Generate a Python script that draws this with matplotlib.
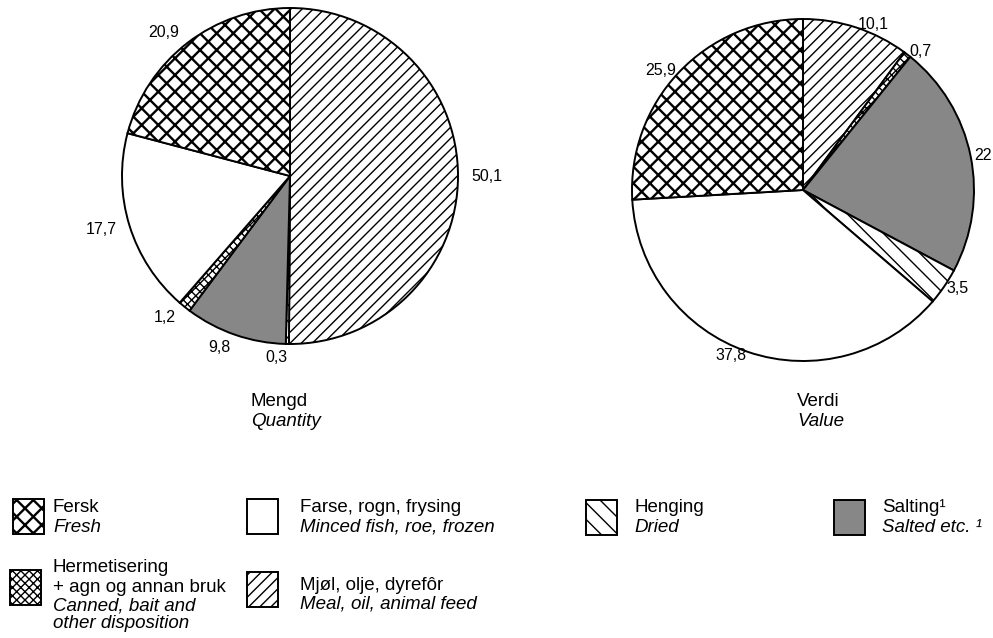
import matplotlib
matplotlib.use("Agg")
import matplotlib.pyplot as plt
from matplotlib.patches import Rectangle

plt.rcParams["font.family"] = ["Liberation Sans", "DejaVu Sans"]
plt.rcParams["hatch.linewidth"] = 1.0

# ----------------------------------------------------------------------
# Data (shares in per cent)
# ----------------------------------------------------------------------
# Wedges listed clockwise from 12 o'clock.
quantity_cats = ["mjol", "henging", "salting", "hermet", "farse", "fersk"]
quantity_vals = [50.1, 0.3, 9.8, 1.2, 17.7, 20.9]

value_cats = ["mjol", "hermet", "salting", "henging", "farse", "fersk"]
value_vals = [10.1, 0.7, 22.0, 3.5, 37.8, 25.9]

legend_cats = ["fersk", "farse", "henging", "salting", "hermet", "mjol"]
legend_no = ["Fersk", "Farse, rogn, frysing", "Henging", "Salting\u00b9",
             "Hermetisering\n+ agn og annan bruk", "Mjøl, olje, dyrefôr"]
legend_en = ["Fresh", "Minced fish, roe, frozen", "Dried", "Salted etc. \u00b9",
             "Canned, bait and\nother disposition", "Meal, oil, animal feed"]

# fill styles per category: (facecolor, hatch)
STYLE = {
    "fersk": ("white", "xx"),
    "hermet": ("white", "xxxx"),
    "farse": ("white", ""),
    "mjol": ("white", "///"),
    "henging": ("white", "\\\\"),
    "salting": ("#878787", ""),
}

W, H = 993, 638


def fmt(v):
    return f"{v:g}".replace(".", ",")


def draw_pie(ax, vals, cats, center, radius, labeldistance):
    wedges, texts = ax.pie(
        vals,
        labels=[fmt(v) for v in vals],
        colors=[STYLE[c][0] for c in cats],
        hatch=[STYLE[c][1] for c in cats],
        startangle=90,
        counterclock=False,
        center=center,
        radius=radius,
        labeldistance=labeldistance,
        wedgeprops={"edgecolor": "black", "linewidth": 1.4},
        textprops={"fontsize": 11.5},
    )
    for w, c in zip(wedges, cats):
        if c == "fersk" and hasattr(w, "set_hatch_linewidth"):
            w.set_hatch_linewidth(1.7)
    # pie() aligns on the sign of the absolute x, so redo it around the centre
    for t in texts:
        t.set_horizontalalignment("left" if t.get_position()[0] > center[0] else "right")
    return wedges


fig = plt.figure(figsize=(W / 100, H / 100), dpi=100)
ax = fig.add_axes([0, 0, 1, 1])

draw_pie(ax, quantity_vals, quantity_cats, (290, H - 176), 168, 1.08)
draw_pie(ax, value_vals, value_cats, (803, H - 190), 171, 1.02)

ax.set_xlim(0, W)
ax.set_ylim(0, H)
ax.set_aspect("equal")
ax.axis("off")

# pie captions
for x, no, en in [(251, "Mengd", "Quantity"), (797, "Verdi", "Value")]:
    ax.text(x, H - 401, no, ha="left", va="center", fontsize=13.5)
    ax.text(x, H - 421, en, ha="left", va="center", fontsize=13.5, style="italic")

# legend: box x, text x, top y of row
box_x = [13, 247, 586, 834, 10, 247]
text_x = [53, 300, 634, 882, 53, 300]
row_top = [499, 499, 500, 500, 570, 572]
first_line = [508, 508, 508, 508, 568, 585]
line_step = 19

for i, cat in enumerate(legend_cats):
    fc, hatch = STYLE[cat]
    rect = Rectangle((box_x[i], H - row_top[i] - 35), 31, 35, facecolor=fc,
                     edgecolor="black", hatch=hatch, linewidth=1.4)
    if cat == "fersk" and hasattr(rect, "set_hatch_linewidth"):
        rect.set_hatch_linewidth(1.7)
    ax.add_patch(rect)
    y = first_line[i]
    for line in legend_no[i].split("\n"):
        ax.text(text_x[i], H - y, line, ha="left", va="center", fontsize=13.5)
        y += line_step
    for line in legend_en[i].split("\n"):
        ax.text(text_x[i], H - y, line, ha="left", va="center", fontsize=13.5,
                style="italic")
        y += line_step - 2

fig.savefig("out.png", dpi=100)
